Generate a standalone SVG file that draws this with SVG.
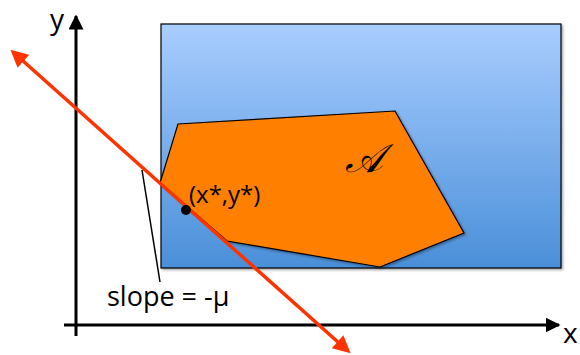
<svg xmlns="http://www.w3.org/2000/svg" width="580" height="355" viewBox="0 0 580 355">
<defs>
<linearGradient id="blueGrad" x1="0" y1="0" x2="0" y2="1">
<stop offset="0" stop-color="#a9cdff"/>
<stop offset="1" stop-color="#4a8fd9"/>
</linearGradient>
<filter id="shadow" x="-5%" y="-5%" width="110%" height="110%">
<feDropShadow dx="1.5" dy="1.5" stdDeviation="1.2" flood-color="#000" flood-opacity="0.35"/>
</filter>
<marker id="axisArrow" viewBox="0 0 10 10" refX="9" refY="5" markerWidth="5" markerHeight="5" orient="auto-start-reverse" markerUnits="strokeWidth">
<path d="M0,0 L10,5 L0,10 z" fill="#000"/>
</marker>
<marker id="redArrow" viewBox="0 0 10 10" refX="8" refY="5" markerWidth="5" markerHeight="5" orient="auto-start-reverse" markerUnits="strokeWidth">
<path d="M0,0 L10,5 L0,10 z" fill="#ff3300"/>
</marker>
<style>
.lbl{font-family:"Open Sans","Liberation Sans",sans-serif;fill:#000;}
.axis{stroke:#000;stroke-width:3;fill:none;}
</style>
</defs>
<g id="region-rect">
<rect x="161" y="24" width="400" height="244" fill="url(#blueGrad)" stroke="#000" stroke-width="1.2" filter="url(#shadow)"/>
</g>
<g id="set-A">
<polygon points="178,124 395,111 464,233 380,267 227,241 160,183" fill="#ff7f00" stroke="#000" stroke-width="1.2" filter="url(#shadow)"/>
<text x="345" y="172" font-family="'DejaVu Serif','Liberation Serif',serif" font-style="italic" font-size="40" fill="#000">𝒜</text>
</g>
<g id="axes">
<line class="axis" x1="76" y1="336" x2="76" y2="16" marker-end="url(#axisArrow)"/>
<line class="axis" x1="64" y1="325" x2="559" y2="325" marker-end="url(#axisArrow)"/>
<text class="lbl" x="50" y="29" font-size="28">y</text>
<text class="lbl" x="563" y="343" font-size="28">x</text>
</g>
<g id="connectors">
<line x1="13" y1="52" x2="348" y2="351" stroke="#ff3300" stroke-width="3.5" marker-start="url(#redArrow)" marker-end="url(#redArrow)"/>
<line x1="142" y1="170" x2="160" y2="282" stroke="#000" stroke-width="1.5"/>
</g>
<g id="optimum">
<circle cx="186" cy="210" r="5" fill="#000"/>
<text class="lbl" x="189" y="203" font-size="24">(x*,y*)</text>
</g>
<g id="slope-label">
<text class="lbl" x="107" y="306" font-size="27">slope = -μ</text>
</g>
</svg>
